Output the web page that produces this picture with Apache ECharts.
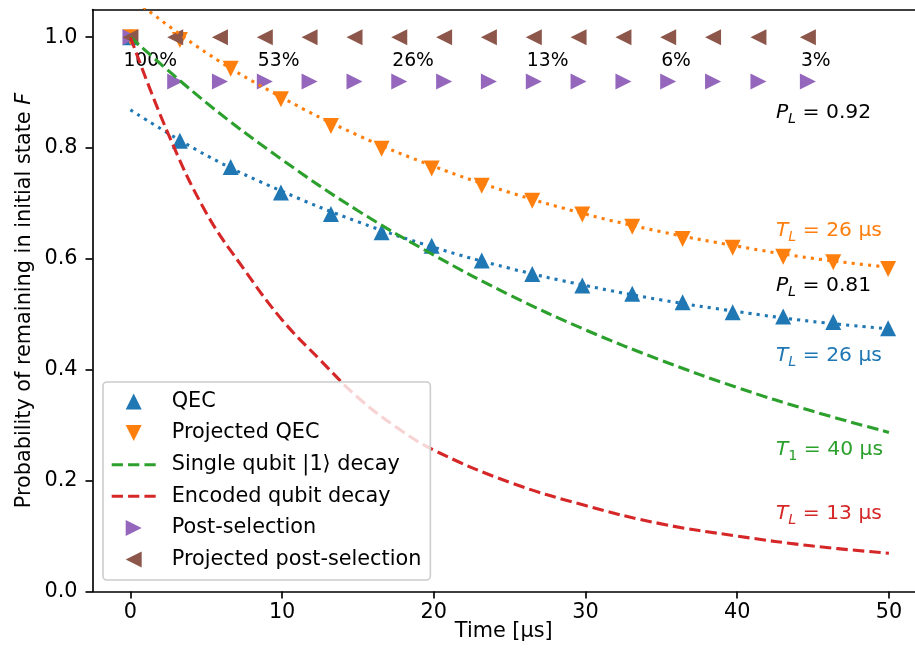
<!DOCTYPE html>
<html>
<head>
<meta charset="utf-8">
<script src="https://cdn.jsdelivr.net/npm/echarts@6/dist/echarts.min.js"></script>
<style>
    html, body { margin: 0; padding: 0; background: #fff; }
    #chart { width: 915px; height: 655px; }
</style>
</head>
<body>
<div id="chart"></div>
<script>
    // measured points, time in µs
    var qecTimes = [0, 3.26, 6.61, 9.92, 13.22, 16.56, 19.86, 23.16, 26.49, 29.79, 33.08, 36.4, 39.7, 43.03, 46.33, 49.95];
    var qecF = [1.0, 0.813, 0.766, 0.720, 0.681, 0.648, 0.624, 0.597, 0.573, 0.552, 0.537, 0.522, 0.504, 0.496, 0.486, 0.475];
    var projQecF = [1.0, 0.995, 0.943, 0.888, 0.840, 0.799, 0.763, 0.732, 0.705, 0.680, 0.658, 0.636, 0.620, 0.604, 0.594, 0.582];

    var postTimes = [0, 2.95, 5.9, 8.86, 11.81, 14.77, 17.72, 20.68, 23.63, 26.59, 29.54, 32.5, 35.45, 38.41, 41.4, 44.66];
    var postF = [1.0, 0.92, 0.92, 0.92, 0.92, 0.92, 0.92, 0.92, 0.92, 0.92, 0.92, 0.92, 0.92, 0.92, 0.92, 0.92];
    var projPostF = [1.0, 1.0, 1.0, 1.0, 1.0, 1.0, 1.0, 1.0, 1.0, 1.0, 1.0, 1.0, 1.0, 1.0, 1.0, 1.0];
    var keptLabels = ['100%', '53%', '26%', '13%', '6%', '3%'];   // every 3rd post-selection point

    // fitted curves
    var fitTimes = [0, 5, 10, 15, 20, 25, 30, 35, 40, 45, 50];
    var qecFit = [0.869, 0.787, 0.722, 0.667, 0.621, 0.583, 0.552, 0.526, 0.505, 0.487, 0.474];
    var projQecFit = [1.073, 0.972, 0.891, 0.823, 0.767, 0.720, 0.681, 0.649, 0.623, 0.601, 0.585];
    var singleDecay = [1.0, 0.882, 0.779, 0.687, 0.607, 0.535, 0.472, 0.417, 0.368, 0.325, 0.287];
    var encTimes = [0, 2.5, 5, 7.5, 10, 12.5, 15, 17.5, 20, 25, 30, 35, 40, 45, 50];
    var encodedDecay = [1.0, 0.825, 0.683, 0.581, 0.490, 0.418, 0.350, 0.297, 0.255, 0.197, 0.155, 0.122, 0.100, 0.082, 0.069];

    var xTicks = [0, 10, 20, 30, 40, 50];
    var yTicks = [0, 0.2, 0.4, 0.6, 0.8, 1.0];

    var noteTexts = [
        '{it|P}{sub|L}{n| = 0.92}',
        '{it|T}{sub|L}{n| = 26 µs}',
        '{it|P}{sub|L}{n| = 0.81}',
        '{it|T}{sub|L}{n| = 26 µs}',
        '{it|T}{subn|1}{n| = 40 µs}',
        '{it|T}{sub|L}{n| = 13 µs}'
    ];
    var noteY = [0.863, 0.651, 0.552, 0.425, 0.255, 0.140];
    var noteX = 42.55;

    var FONT = 'DejaVu Sans';
    var FS = 20.8;
    var C = { blue: '#1f77b4', orange: '#ff7f0e', green: '#2ca02c', red: '#d62728', purple: '#9467bd', brown: '#8c564b' };
    var noteColors = ['#000000', C.orange, '#000000', C.blue, C.green, C.red];

    // matplotlib style triangles
    var TRI_UP = 'path://M0,-1L1,1L-1,1Z';
    var TRI_DOWN = 'path://M-1,-1L1,-1L0,1Z';
    var TRI_RIGHT = 'path://M-1,-1L1,0L-1,1Z';
    var TRI_LEFT = 'path://M1,-1L-1,0L1,1Z';
    var DASH_ICON = 'path://M0,0h11v3h-11zM16,0h11v3h-11zM32,0h11v3h-11z';

    function zip(xs, ys) {
        return xs.map(function (x, i) { return [x, ys[i]]; });
    }

    var richStyles = {
        it: { fontFamily: FONT, fontSize: 20.3, fontStyle: 'italic' },
        sub: { fontFamily: FONT, fontSize: 14.3, fontStyle: 'italic', padding: [13, 0, 0, 0] },
        subn: { fontFamily: FONT, fontSize: 14.3, padding: [13, 0, 0, 0] },
        n: { fontFamily: FONT, fontSize: 20.3 }
    };

    var spine = { color: '#000', width: 1.65 };
    var chart = echarts.init(document.getElementById('chart'));

    chart.setOption({
        animation: false,
        backgroundColor: '#fff',
        grid: { left: 92.5, right: 0, top: 9.5, bottom: 63.5, outerBoundsMode: 'none' },
        xAxis: [{
            type: 'value', min: -2.5, max: 51.72, position: 'bottom',
            axisLine: { show: true, onZero: false, lineStyle: spine },
            axisTick: { show: true, customValues: xTicks, length: 7, lineStyle: spine },
            axisLabel: { customValues: xTicks, color: '#000', fontFamily: FONT, fontSize: FS, margin: 11 },
            splitLine: { show: false },
            name: 'Time [µs]', nameLocation: 'middle', nameGap: 30, nameMoveOverlap: false,
            nameTextStyle: { color: '#000', fontFamily: FONT, fontSize: FS }
        }, {
            type: 'value', min: -2.5, max: 51.72, position: 'top',
            axisLine: { show: true, onZero: false, lineStyle: spine },
            axisTick: { show: false }, axisLabel: { show: false }, splitLine: { show: false }
        }],
        yAxis: {
            type: 'value', min: 0, max: 1.05,
            axisLine: { show: true, onZero: false, lineStyle: spine },
            axisTick: { show: true, customValues: yTicks, length: 7, lineStyle: spine },
            axisLabel: {
                customValues: yTicks, color: '#000', fontFamily: FONT, fontSize: FS, margin: 15,
                formatter: function (v) { return v.toFixed(1); }
            },
            splitLine: { show: false },
            name: 'Probability of remaining in initial state {it|F}',
            nameLocation: 'middle', nameGap: 57, nameMoveOverlap: false,
            nameTextStyle: { color: '#000', fontFamily: FONT, fontSize: FS, rich: { it: { fontFamily: FONT, fontSize: FS, fontStyle: 'italic' } } }
        },
        legend: {
            orient: 'vertical', left: 103, top: 382,
            padding: [9, 9, 10, 8.7],
            itemWidth: 44, itemHeight: 16, itemGap: 10.6,
            symbolKeepAspect: true, symbolRotate: 0,
            backgroundColor: 'rgba(255,255,255,0.8)',
            borderColor: '#cccccc', borderWidth: 1.6, borderRadius: 4,
            selectedMode: false,
            textStyle: { color: '#000', fontFamily: FONT, fontSize: FS, padding: [0, 0, 0, 11] },
            data: [
                { name: 'QEC', icon: TRI_UP },
                { name: 'Projected QEC', icon: TRI_DOWN },
                { name: 'Single qubit |1⟩ decay', icon: DASH_ICON },
                { name: 'Encoded qubit decay', icon: DASH_ICON },
                { name: 'Post-selection', icon: TRI_RIGHT },
                { name: 'Projected post-selection', icon: TRI_LEFT }
            ]
        },
        series: [
            {
                name: 'QEC', type: 'scatter', data: zip(qecTimes, qecF),
                symbol: TRI_UP, symbolSize: 16, itemStyle: { color: C.blue, opacity: 1 }
            },
            {
                name: 'Projected QEC', type: 'scatter', data: zip(qecTimes, projQecF),
                symbol: TRI_DOWN, symbolSize: 16, itemStyle: { color: C.orange, opacity: 1 }
            },
            {
                name: 'QEC fit', type: 'line', data: zip(fitTimes, qecFit), smooth: 0.4,
                symbol: 'none', lineStyle: { color: C.blue, width: 3.1, type: [3.1, 5.1] }
            },
            {
                name: 'Projected QEC fit', type: 'line', data: zip(fitTimes, projQecFit), smooth: 0.4,
                symbol: 'none', lineStyle: { color: C.orange, width: 3.1, type: [3.1, 5.1] }
            },
            {
                name: 'Single qubit |1⟩ decay', type: 'line', data: zip(fitTimes, singleDecay), smooth: 0.4,
                symbol: 'none', itemStyle: { color: C.green }, lineStyle: { color: C.green, width: 3.1, type: [11.5, 5] }
            },
            {
                name: 'Encoded qubit decay', type: 'line', data: zip(encTimes, encodedDecay), smooth: 0.4,
                symbol: 'none', itemStyle: { color: C.red }, lineStyle: { color: C.red, width: 3.1, type: [11.5, 5] }
            },
            {
                name: 'Post-selection', type: 'scatter', data: zip(postTimes, postF),
                symbol: TRI_RIGHT, symbolSize: 16, itemStyle: { color: C.purple, opacity: 1 }
            },
            {
                name: 'Projected post-selection', type: 'scatter', data: zip(postTimes, projPostF),
                symbol: TRI_LEFT, symbolSize: 16, itemStyle: { color: C.brown, opacity: 1 }
            },
            {
                name: 'kept', type: 'scatter', silent: true, symbolSize: 0,
                itemStyle: { opacity: 1 },
                data: keptLabels.map(function (t, i) { return [postTimes[i * 3], 0.956]; }),
                label: {
                    show: true, position: 'right', distance: 0, offset: [-7, 0],
                    color: '#000000', fontFamily: FONT, fontSize: 18.75,
                    formatter: function (p) { return keptLabels[p.dataIndex]; }
                }
            },
            {
                name: 'notes', type: 'scatter', silent: true, symbolSize: 0,
                itemStyle: { opacity: 1 },
                data: noteTexts.map(function (t, i) {
                    return {
                        value: [noteX, noteY[i]],
                        label: { formatter: t, color: noteColors[i] }
                    };
                }),
                label: {
                    show: true, position: 'right', distance: 0,
                    fontFamily: FONT, fontSize: FS, rich: richStyles
                }
            }
        ]
    });
</script>
</body>
</html>
